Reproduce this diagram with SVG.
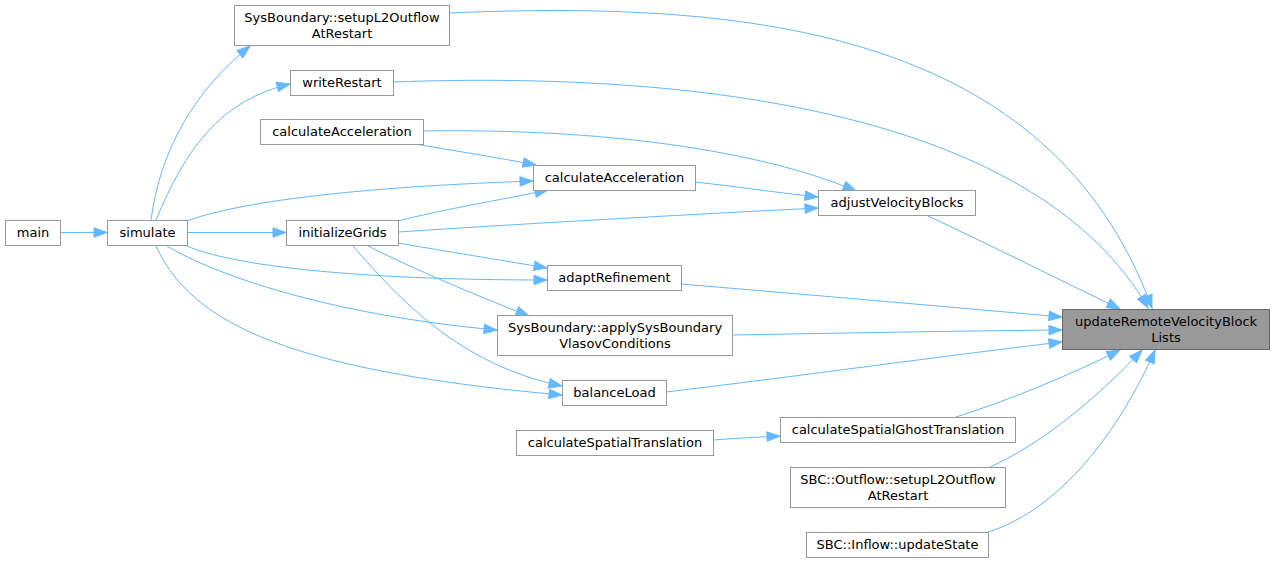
<svg xmlns="http://www.w3.org/2000/svg" width="1275" height="563" viewBox="0 0 1275 563">
<style>
.n rect{fill:#fff;stroke:#999;stroke-width:1}
.n.hl rect{fill:#999;stroke:#666}
.n text{font-family:"DejaVu Sans","Liberation Sans",sans-serif;font-size:13px;fill:#000;text-anchor:middle}
#edges path{fill:none;stroke:#63b8ff;stroke-width:1;marker-end:url(#ah)}
</style>
<defs>
<marker id="ah" markerUnits="userSpaceOnUse" markerWidth="14" markerHeight="11" refX="13" refY="5" orient="auto" overflow="visible">
<path d="M0,0.3 L13,5 L0,9.7 z" fill="#63b8ff" stroke="#63b8ff" stroke-width="1"/>
</marker>
</defs>
<rect width="1275" height="563" fill="#fff"/>
<g id="edges">
<path d="M60,232.5 L107,232.5"/>
<path d="M151,220 C160,150 195,90 250,46"/>
<path d="M156,220 C185,150 220,100 290,84"/>
<path d="M187,221 C230,205 330,188 533,181"/>
<path d="M187,232.5 L286,232.5"/>
<path d="M187,246 C230,265 350,280 547,280"/>
<path d="M167,246 C215,275 330,315 497,330"/>
<path d="M156,246 C190,320 280,370 562,395"/>
<path d="M398,221 C440,210 500,200 548,190"/>
<path d="M398,232 C550,222 700,214 818,208"/>
<path d="M398,243 C450,252 500,260 547,268"/>
<path d="M368,246 C420,272 480,297 529,316"/>
<path d="M353,246 C400,300 460,365 562,386"/>
<path d="M415,144 C450,150 500,158 536,165"/>
<path d="M423,131 C600,128 760,150 856,191"/>
<path d="M695,182 C740,187 780,193 818,197"/>
<path d="M926,215 C990,245 1060,280 1120,309"/>
<path d="M449,13 C750,0 1050,30 1152,308"/>
<path d="M393,82 C720,70 1040,120 1148,308"/>
<path d="M681,284 C800,294 950,307 1062,317"/>
<path d="M732,335 C850,333 950,331 1062,330"/>
<path d="M666,392 C800,376 950,355 1062,342"/>
<path d="M953,418 C1010,400 1070,375 1120,350"/>
<path d="M988,468 C1040,445 1095,400 1142,350"/>
<path d="M988,532 C1060,510 1120,430 1155,350"/>
<path d="M713,440 C740,438 760,437 780,436"/>
</g>
<g id="n_setupL2" class="n"><rect x="234.5" y="5.5" width="215" height="40"/><text x="342" y="22">SysBoundary::setupL2Outflow</text><text x="342" y="37.5">AtRestart</text></g>
<g id="n_writeRestart" class="n"><rect x="290.5" y="70.5" width="103" height="25"/><text x="342" y="87">writeRestart</text></g>
<g id="n_calcAccL" class="n"><rect x="260.5" y="119.5" width="163" height="25"/><text x="342" y="136">calculateAcceleration</text></g>
<g id="n_calcAccM" class="n"><rect x="533.5" y="165.5" width="162" height="25"/><text x="614.5" y="182">calculateAcceleration</text></g>
<g id="n_adjust" class="n"><rect x="818.5" y="190.5" width="157" height="25"/><text x="897" y="207">adjustVelocityBlocks</text></g>
<g id="n_main" class="n"><rect x="5.5" y="220.5" width="55" height="25"/><text x="33" y="237">main</text></g>
<g id="n_simulate" class="n"><rect x="107.5" y="220.5" width="80" height="25"/><text x="147.5" y="237">simulate</text></g>
<g id="n_initGrids" class="n"><rect x="286.5" y="220.5" width="112" height="25"/><text x="342.5" y="237">initializeGrids</text></g>
<g id="n_adapt" class="n"><rect x="547.5" y="265.5" width="134" height="25"/><text x="614.5" y="282">adaptRefinement</text></g>
<g id="n_applySB" class="n"><rect x="497.5" y="315.5" width="235" height="40"/><text x="615" y="332">SysBoundary::applySysBoundary</text><text x="615" y="347.5">VlasovConditions</text></g>
<g id="n_balance" class="n"><rect x="562.5" y="380.5" width="104" height="25"/><text x="614.5" y="397">balanceLoad</text></g>
<g id="n_calcST" class="n"><rect x="516.5" y="430.5" width="197" height="25"/><text x="615" y="447">calculateSpatialTranslation</text></g>
<g id="n_ghost" class="n"><rect x="780.5" y="417.5" width="235" height="25"/><text x="898" y="434">calculateSpatialGhostTranslation</text></g>
<g id="n_sbcOut" class="n"><rect x="790.5" y="467.5" width="215" height="40"/><text x="898" y="484">SBC::Outflow::setupL2Outflow</text><text x="898" y="499.5">AtRestart</text></g>
<g id="n_sbcIn" class="n"><rect x="806.5" y="532.5" width="182" height="25"/><text x="897.5" y="549">SBC::Inflow::updateState</text></g>
<g id="n_update" class="n hl"><rect x="1062.5" y="309.5" width="207" height="40"/><text x="1166" y="326">updateRemoteVelocityBlock</text><text x="1166" y="341.5">Lists</text></g>
</svg>
